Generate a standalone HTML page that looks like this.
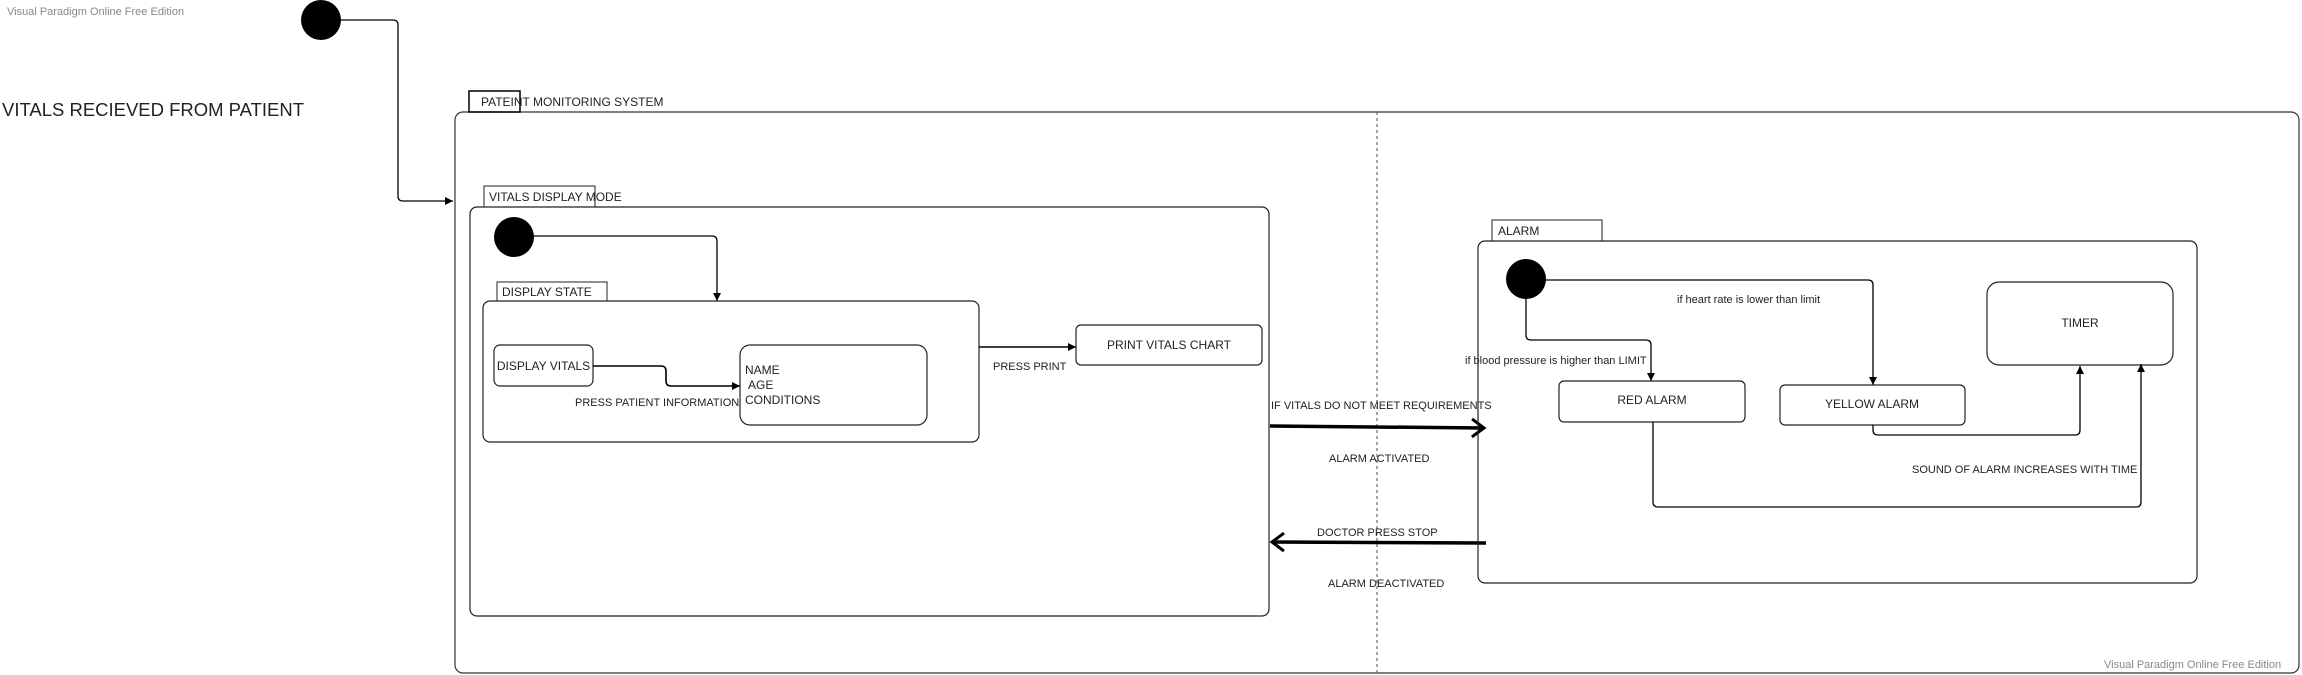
<!DOCTYPE html>
<html><head><meta charset="utf-8"><style>
html,body{margin:0;padding:0;background:#fff;width:2302px;height:675px;overflow:hidden}
svg text{font-family:"Liberation Sans",Arial,sans-serif;fill:#222}
</style></head><body>
<svg width="2302" height="675" viewBox="0 0 2302 675" xmlns="http://www.w3.org/2000/svg">
<defs>
<marker id="a" markerWidth="10" markerHeight="10" refX="8" refY="5" orient="auto" markerUnits="userSpaceOnUse"><path d="M0,1 L8,5 L0,9 Z" fill="#000"/></marker>
<marker id="b" markerWidth="24" markerHeight="24" refX="14" refY="12" orient="auto" markerUnits="userSpaceOnUse"><path d="M2,3 L14,12 L2,21" fill="none" stroke="#000" stroke-width="3"/></marker>
</defs>
<text x="7" y="15" font-size="11" style="fill:#888">Visual Paradigm Online Free Edition</text>
<text x="2104" y="668" font-size="11" style="fill:#888">Visual Paradigm Online Free Edition</text>
<text x="2" y="116" font-size="18.5" textLength="302" lengthAdjust="spacingAndGlyphs">VITALS RECIEVED FROM PATIENT</text>

<circle cx="321" cy="20" r="20" fill="#000"/>
<path d="M341,20 H393 Q398,20 398,25 V196 Q398,201 403,201 H453" fill="none" stroke="#000" stroke-width="1.3" marker-end="url(#a)"/>

<rect x="455" y="112" width="1844" height="561" rx="8" fill="none" stroke="#333" stroke-width="1.2"/>
<rect x="469" y="91" width="51" height="21" fill="none" stroke="#000" stroke-width="1.5"/>
<text x="481" y="106" font-size="12">PATEINT MONITORING SYSTEM</text>
<line x1="1377" y1="112" x2="1377" y2="673" stroke="#666" stroke-width="1.2" stroke-dasharray="3,3"/>

<rect x="470" y="207" width="799" height="409" rx="7" fill="none" stroke="#222" stroke-width="1.2"/>
<rect x="484" y="186" width="111" height="21" fill="none" stroke="#222" stroke-width="1"/>
<text x="489" y="201" font-size="12">VITALS DISPLAY MODE</text>
<circle cx="514" cy="237" r="20" fill="#000"/>
<path d="M534,236 H712 Q717,236 717,241 V301" fill="none" stroke="#000" stroke-width="1.3" marker-end="url(#a)"/>

<rect x="483" y="301" width="496" height="141" rx="7" fill="none" stroke="#222" stroke-width="1.2"/>
<rect x="497" y="282" width="110" height="19" fill="none" stroke="#222" stroke-width="1"/>
<text x="502" y="296" font-size="12">DISPLAY STATE</text>

<rect x="494" y="345" width="99" height="41" rx="6" fill="none" stroke="#222" stroke-width="1.2"/>
<text x="543.5" y="370" font-size="12" text-anchor="middle">DISPLAY VITALS</text>
<rect x="740" y="345" width="187" height="80" rx="10" fill="none" stroke="#222" stroke-width="1.2"/>
<text x="745" y="374" font-size="12">NAME</text>
<text x="748" y="389" font-size="12">AGE</text>
<text x="745" y="404" font-size="12">CONDITIONS</text>
<path d="M593,366 H661 Q666,366 666,371 V381 Q666,386 671,386 H740" fill="none" stroke="#000" stroke-width="1.6" marker-end="url(#a)"/>
<text x="575" y="406" font-size="11">PRESS PATIENT INFORMATION</text>

<path d="M979,347 H1076" fill="none" stroke="#000" stroke-width="1.6" marker-end="url(#a)"/>
<text x="993" y="370" font-size="11">PRESS PRINT</text>
<rect x="1076" y="325" width="186" height="40" rx="5" fill="none" stroke="#222" stroke-width="1.2"/>
<text x="1169" y="349" font-size="12" text-anchor="middle">PRINT VITALS CHART</text>

<text x="1271" y="409" font-size="11">IF VITALS DO NOT MEET REQUIREMENTS</text>
<line x1="1270" y1="426" x2="1484" y2="428" stroke="#000" stroke-width="3.5" marker-end="url(#b)"/>
<text x="1329" y="462" font-size="11">ALARM  ACTIVATED</text>
<text x="1317" y="536" font-size="11">DOCTOR PRESS STOP</text>
<line x1="1486" y1="543" x2="1272" y2="542" stroke="#000" stroke-width="3.5" marker-end="url(#b)"/>
<text x="1328" y="587" font-size="11">ALARM  DEACTIVATED</text>

<rect x="1478" y="241" width="719" height="342" rx="7" fill="none" stroke="#222" stroke-width="1.2"/>
<rect x="1492" y="220" width="110" height="21" fill="none" stroke="#222" stroke-width="1"/>
<text x="1498" y="235" font-size="12">ALARM</text>
<circle cx="1526" cy="279" r="20" fill="#000"/>
<path d="M1546,280 H1868 Q1873,280 1873,285 V385" fill="none" stroke="#000" stroke-width="1.3" marker-end="url(#a)"/>
<text x="1677" y="303" font-size="11">if heart rate is lower than limit</text>
<path d="M1526,299 V335 Q1526,340 1531,340 H1646 Q1651,340 1651,345 V381" fill="none" stroke="#000" stroke-width="1.3" marker-end="url(#a)"/>
<text x="1465" y="364" font-size="11">if blood pressure is higher than  LIMIT</text>

<rect x="1559" y="381" width="186" height="41" rx="5" fill="none" stroke="#222" stroke-width="1.2"/>
<text x="1652" y="404" font-size="12" text-anchor="middle">RED ALARM</text>
<rect x="1780" y="385" width="185" height="40" rx="5" fill="none" stroke="#222" stroke-width="1.2"/>
<text x="1872" y="408" font-size="12" text-anchor="middle">YELLOW ALARM</text>
<rect x="1987" y="282" width="186" height="83" rx="12" fill="none" stroke="#222" stroke-width="1.2"/>
<text x="2080" y="327" font-size="12" text-anchor="middle">TIMER</text>

<path d="M1873,425 V430 Q1873,435 1878,435 H2075 Q2080,435 2080,430 V366" fill="none" stroke="#000" stroke-width="1.3" marker-end="url(#a)"/>
<path d="M1653,422 V502 Q1653,507 1658,507 H2136 Q2141,507 2141,502 V364" fill="none" stroke="#000" stroke-width="1.3" marker-end="url(#a)"/>
<text x="1912" y="473" font-size="11">SOUND OF ALARM INCREASES WITH TIME</text>
</svg>
</body></html>
